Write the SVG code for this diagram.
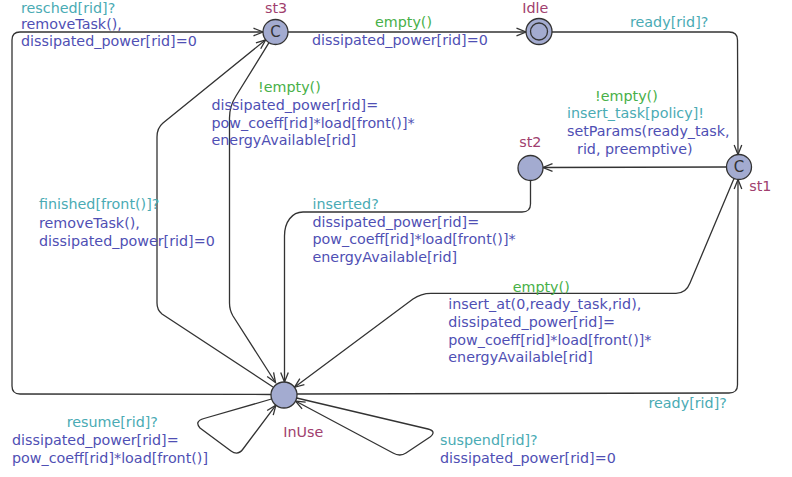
<svg xmlns="http://www.w3.org/2000/svg" width="792" height="477" viewBox="0 0 792 477">
<style>
text{font-family:"DejaVu Sans","Liberation Sans",sans-serif;font-size:14.3px}
.loc{fill:#a3abd0;stroke:#333;stroke-width:1.3}
.nm{fill:#a0406e}
.sy{fill:#4aabb4}
.up{fill:#4f4fb4}
.gu{fill:#48b048}
.c{fill:#333;font-size:15px}
.e{fill:none;stroke:#333;stroke-width:1.3}
</style>
<defs>
<marker id="arr" viewBox="-11 -6 13 12" refX="0" refY="0" markerWidth="13" markerHeight="12" markerUnits="userSpaceOnUse" orient="auto">
<path d="M-9.5,-3.8 L0,0 L-9.5,3.8" fill="none" stroke="#333" stroke-width="1.3"/>
</marker>
</defs>
<rect width="792" height="477" fill="#fff"/>
<g id="connectors">
<path class="e" marker-end="url(#arr)" d="M271,394.5 L20,394 Q12,394 12,386 L12,40 Q12,32 20,32 L263,32"/>
<path class="e" marker-end="url(#arr)" d="M288,32 L526,32"/>
<path class="e" marker-end="url(#arr)" d="M552,32 L729,32 Q737.5,32 737.5,40 L738,154.5"/>
<path class="e" marker-end="url(#arr)" d="M726.5,167 L543,167.5"/>
<path class="e" marker-end="url(#arr)" d="M530.5,180.5 L530.5,204 Q530.5,212 522,212 L303,212 C292,212 284.5,222 284.5,236 L284.5,382"/>
<path class="e" marker-end="url(#arr)" d="M734,178.5 L690,283 Q686,293.3 676,293.3 L431,293.3 Q421,293.3 413,299 L294.5,387.3"/>
<path class="e" marker-end="url(#arr)" d="M273,387 L162,314 Q157,310 157,303 L157,137 Q157,128 163,123 L265.7,39.8"/>
<path class="e" marker-end="url(#arr)" d="M269,42.7 L236,96 Q229.5,106 229.5,118 L229.5,303 Q229.5,310 233,316 L275.5,382.5"/>
<path class="e" marker-end="url(#arr)" d="M271.5,399 L204,418.5 Q194,421.5 200,428 L231,451 Q238,456 243,449 L275.9,405.2"/>
<path class="e" marker-end="url(#arr)" d="M296.6,398 L428,429 Q437,431.5 430,437 L406,453 Q400,457 393,453 L295.5,401"/>
<path class="e" marker-end="url(#arr)" d="M297,394 L729,393 Q737.5,393 737.5,385 L738,179.5"/>
</g>
<g id="labels">
<text class="sy" x="21" y="12.8">resched[rid]?</text>
<text class="up" x="21" y="28.5">removeTask(),</text>
<text class="up" x="21" y="45.8">dissipated_power[rid]=0</text>
<text class="gu" x="375" y="26.7">empty()</text>
<text class="up" x="312" y="45">dissipated_power[rid]=0</text>
<text class="sy" x="630" y="26.7">ready[rid]?</text>
<text class="gu" x="595" y="100.5">!empty()</text>
<text class="sy" x="567" y="118.3">insert_task[policy]!</text>
<text class="up" x="567" y="136">setParams(ready_task,</text>
<text class="up" x="577" y="153.5">rid, preemptive)</text>
<text class="gu" x="258" y="91.5">!empty()</text>
<text class="up" x="211.5" y="110">dissipated_power[rid]=</text>
<text class="up" x="211.5" y="127.7">pow_coeff[rid]*load[front()]*</text>
<text class="up" x="211.5" y="145.4">energyAvailable[rid]</text>
<text class="sy" x="39" y="209.3">finished[front()]?</text>
<text class="up" x="39" y="227.5">removeTask(),</text>
<text class="up" x="39" y="245.7">dissipated_power[rid]=0</text>
<text class="sy" x="312.5" y="209">inserted?</text>
<text class="up" x="312.5" y="226.7">dissipated_power[rid]=</text>
<text class="up" x="312.5" y="244.4">pow_coeff[rid]*load[front()]*</text>
<text class="up" x="312.5" y="262">energyAvailable[rid]</text>
<text class="gu" x="512.7" y="291.7">empty()</text>
<text class="up" x="448.3" y="309.3">insert_at(0,ready_task,rid),</text>
<text class="up" x="448.3" y="327">dissipated_power[rid]=</text>
<text class="up" x="448.3" y="344.7">pow_coeff[rid]*load[front()]*</text>
<text class="up" x="448.3" y="362.4">energyAvailable[rid]</text>
<text class="sy" x="648.5" y="408.3">ready[rid]?</text>
<text class="sy" x="66.7" y="427.3">resume[rid]?</text>
<text class="up" x="12" y="445">dissipated_power[rid]=</text>
<text class="up" x="12" y="463.3">pow_coeff[rid]*load[front()]</text>
<text class="sy" x="440" y="445">suspend[rid]?</text>
<text class="up" x="440" y="463.3">dissipated_power[rid]=0</text>
</g>
<g id="st3">
<circle class="loc" cx="275.5" cy="32" r="12.5"/>
<text class="c" x="275.5" y="37.3" text-anchor="middle">C</text>
<text class="nm" x="265" y="12.8">st3</text>
</g>
<g id="Idle">
<circle class="loc" cx="539" cy="31.5" r="13"/>
<circle class="loc" cx="539" cy="31.5" r="8.5"/>
<text class="nm" x="522.3" y="12.8">Idle</text>
</g>
<g id="st2">
<circle class="loc" cx="530.5" cy="168" r="12.5"/>
<text class="nm" x="519.3" y="146.7">st2</text>
</g>
<g id="st1">
<circle class="loc" cx="739" cy="167" r="12.5"/>
<text class="c" x="739" y="172.3" text-anchor="middle">C</text>
<text class="nm" x="749.3" y="190.7">st1</text>
</g>
<g id="InUse">
<circle class="loc" cx="284" cy="395" r="13"/>
<text class="nm" x="283.3" y="436.7">InUse</text>
</g>
</svg>
